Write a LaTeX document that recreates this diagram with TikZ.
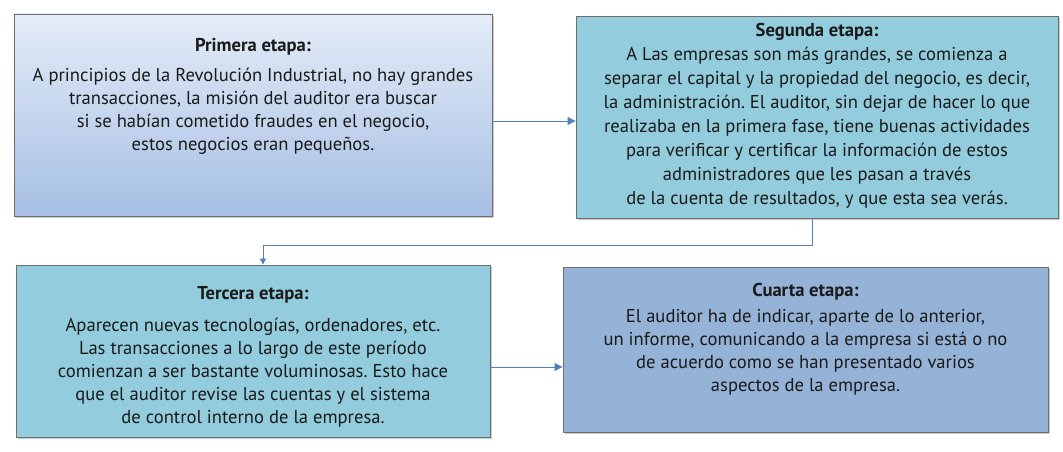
\documentclass[tikz,border=0pt]{standalone}
\usepackage{fontspec}
\setmainfont{PT Sans}
\usetikzlibrary{shadows,arrows.meta}
\definecolor{cyanbox}{HTML}{93CDDD}
\definecolor{bluebox}{HTML}{95B3D7}
\definecolor{gradtop}{HTML}{E4ECF7}
\definecolor{gradbot}{HTML}{A6BFE4}
\definecolor{arrowblue}{HTML}{4F81BD}
\definecolor{boxborder}{HTML}{6E6E6E}
\definecolor{txtcol}{HTML}{1A1A1A}
\frenchspacing
\begin{document}
\begin{tikzpicture}[x=1pt,y=-1pt,
  stagebox/.style={draw=boxborder, line width=0.9pt, rectangle, inner sep=0pt,
    drop shadow={shadow xshift=2pt, shadow yshift=-2pt, opacity=0.35, fill=black!60}},
  stagetext/.style={align=center, anchor=north, inner sep=0pt, text=txtcol,
    font=\fontsize{18.6}{23}\selectfont},
  conn/.style={draw=arrowblue, line width=1pt, -{Triangle[length=8pt,width=8pt]}},
  connsmall/.style={draw=arrowblue, line width=1pt, -{Triangle[length=6pt,width=6pt]}}]
\useasboundingbox (0,0) rectangle (1063,452);
\node[stagebox, minimum width=478pt, minimum height=202pt, top color=gradtop, bottom color=gradbot] (b1) at (253,115) {};
\node[stagebox, minimum width=482pt, minimum height=202pt, fill=cyanbox] (b2) at (817,117) {};
\node[stagebox, minimum width=474pt, minimum height=172pt, fill=cyanbox] (b3) at (253,351) {};
\node[stagebox, minimum width=485pt, minimum height=165pt, fill=bluebox] (b4) at (805.5,349.5) {};

\node[stagetext] (t1) at (253,38) {\textbf{Primera etapa:}\\[7pt]
A principios de la Revolución Industrial, no hay grandes\\
transacciones, la misión del auditor era buscar\\
si se habían cometido fraudes en el negocio,\\
estos negocios eran pequeños.};

\node[stagetext, font=\fontsize{18.6}{24}\selectfont] (t2) at (817,23) {\textbf{Segunda etapa:}\\
A Las empresas son más grandes, se comienza a\\
separar el capital y la propiedad del negocio, es decir,\\
la administración. El auditor, sin dejar de hacer lo que\\
realizaba en la primera fase, tiene buenas actividades\\
para verificar y certificar la información de estos\\
administradores que les pasan a través\\
de la cuenta de resultados, y que esta sea verás.};

\node[stagetext] (t3) at (253,286) {\textbf{Tercera etapa:}\\[9pt]
Aparecen nuevas tecnologías, ordenadores, etc.\\
Las transacciones a lo largo de este período\\
comienzan a ser bastante voluminosas. Esto hace\\
que el auditor revise las cuentas y el sistema\\
de control interno de la empresa.};

\node[stagetext] (t4) at (805.5,283) {\textbf{Cuarta etapa:}\\[3pt]
El auditor ha de indicar, aparte de lo anterior,\\
un informe, comunicando a la empresa si está o no\\
de acuerdo como se han presentado varios\\
aspectos de la empresa.};

\draw[conn] ([yshift=-6pt]b1.east) -- ([yshift=-6pt]b1.east -| b2.west);
\draw[connsmall] ([xshift=-5pt]b2.south) -- ++(0,27) -| ([xshift=10pt]b3.north);
\draw[conn] ([yshift=-16pt]b3.east) -- ([yshift=-16pt]b3.east -| b4.west);
\end{tikzpicture}
\end{document}
